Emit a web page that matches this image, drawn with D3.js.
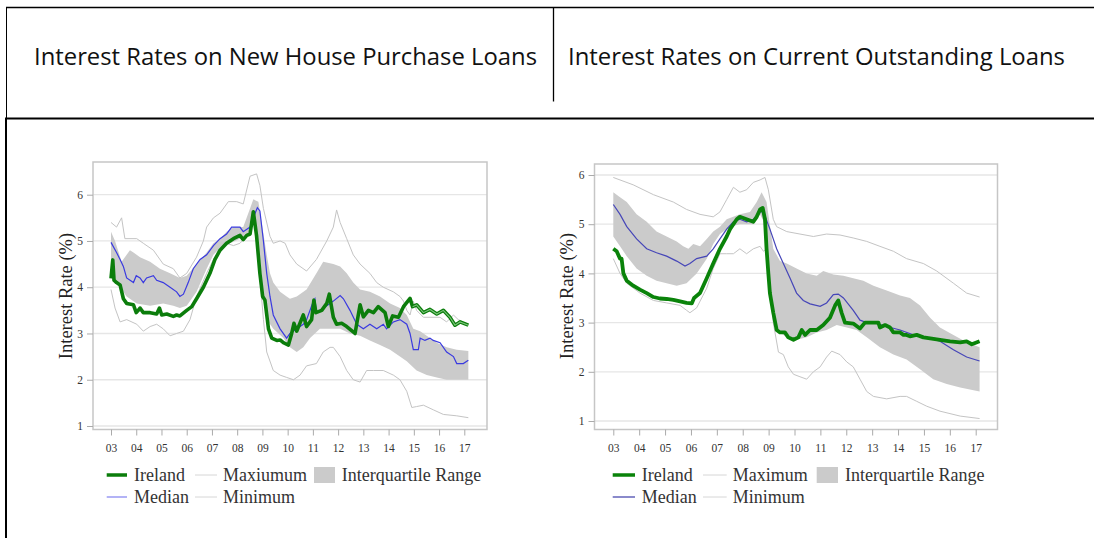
<!DOCTYPE html>
<html>
<head>
<meta charset="utf-8">
<script src="https://cdn.jsdelivr.net/npm/d3@7"></script>
<style>
  html, body { margin: 0; padding: 0; background: #fff; }
  svg { display: block; }
</style>
</head>
<body>
<svg id="chart" width="1094" height="538"></svg>
<script>
// ---------------- DATA (t = years since Jan 2003, value = %) ----------------
const headerTitles = ["Interest Rates on New House Purchase Loans", "Interest Rates on Current Outstanding Loans"];
const xTickLabels = ["03","04","05","06","07","08","09","10","11","12","13","14","15","16","17"];
const yTickValues = [1, 2, 3, 4, 5, 6];
const yAxisTitle = "Interest Rate (%)";
const legendLabelsNew = ["Ireland", "Maxiumum", "Interquartile Range", "Median", "Minimum"];
const legendLabelsOut = ["Ireland", "Maximum", "Interquartile Range", "Median", "Minimum"];

// New house purchase loans
const newIreland = [[0,4.19],[0.07,4.59],[0.12,4.15],[0.22,4.10],[0.36,4.05],[0.49,3.75],[0.62,3.65],[0.89,3.62],[1.00,3.45],[1.08,3.50],[1.15,3.55],[1.28,3.45],[1.55,3.45],[1.81,3.42],[1.92,3.55],[2.01,3.40],[2.21,3.42],[2.47,3.37],[2.60,3.40],[2.73,3.38],[3.00,3.50],[3.20,3.58],[3.39,3.75],[3.66,4.00],[3.92,4.30],[4.12,4.60],[4.32,4.80],[4.58,4.95],[4.85,5.05],[5.11,5.12],[5.24,5.03],[5.38,5.12],[5.51,5.15],[5.64,5.63],[5.77,5.10],[5.90,4.30],[6.01,3.80],[6.10,3.72],[6.24,3.10],[6.37,2.90],[6.57,2.85],[6.70,2.86],[6.83,2.80],[7.03,2.75],[7.16,3.00],[7.25,3.22],[7.36,3.05],[7.62,3.40],[7.75,3.15],[7.95,3.30],[8.04,3.72],[8.12,3.45],[8.35,3.50],[8.55,3.65],[8.65,3.85],[8.81,3.35],[8.94,3.20],[9.14,3.22],[9.34,3.15],[9.67,3.00],[9.87,3.62],[10.00,3.36],[10.20,3.50],[10.40,3.45],[10.59,3.58],[10.86,3.45],[10.99,3.15],[11.16,3.38],[11.39,3.35],[11.59,3.58],[11.85,3.76],[11.95,3.58],[12.11,3.62],[12.38,3.45],[12.64,3.52],[12.91,3.42],[13.17,3.50],[13.43,3.35],[13.63,3.18],[13.83,3.25],[14.16,3.18]];
const newMedian = [[0,4.97],[0.22,4.75],[0.36,4.60],[0.49,4.45],[0.62,4.20],[0.89,4.10],[1.00,4.25],[1.15,4.20],[1.28,4.10],[1.41,4.20],[1.68,4.25],[1.81,4.15],[2.07,4.10],[2.34,4.00],[2.60,3.90],[2.73,3.80],[2.87,3.85],[3.06,4.10],[3.26,4.40],[3.53,4.60],[3.79,4.70],[4.06,4.90],[4.32,5.05],[4.58,5.15],[4.78,5.30],[5.11,5.30],[5.24,5.20],[5.51,5.30],[5.71,5.60],[5.80,5.72],[5.90,5.65],[6.04,5.00],[6.17,4.30],[6.30,3.80],[6.43,3.40],[6.70,3.10],[6.96,2.90],[7.09,3.00],[7.36,3.10],[7.62,3.20],[7.75,3.30],[8.02,3.70],[8.08,3.75],[8.14,3.45],[8.55,3.60],[8.81,3.70],[9.08,3.82],[9.21,3.75],[9.47,3.50],[9.74,3.20],[10.00,3.10],[10.26,3.20],[10.53,3.10],[10.79,3.20],[10.92,3.10],[11.19,3.25],[11.45,3.30],[11.72,3.20],[11.85,3.00],[11.98,2.65],[12.18,2.65],[12.25,2.90],[12.44,2.85],[12.64,2.90],[12.77,2.85],[13.04,2.80],[13.30,2.60],[13.57,2.50],[13.70,2.35],[13.96,2.35],[14.16,2.42]];
const newIqrHigh = [[0,5.20],[0.16,5.00],[0.42,4.55],[0.75,4.80],[0.89,4.75],[1.15,4.65],[1.55,4.55],[1.94,4.40],[2.34,4.30],[2.73,4.20],[3.00,4.25],[3.39,4.50],[3.79,4.75],[4.06,4.95],[4.32,5.05],[4.58,5.20],[4.85,5.30],[5.24,5.30],[5.51,5.70],[5.64,5.90],[5.84,5.85],[5.97,5.40],[6.17,4.70],[6.30,4.30],[6.43,4.10],[6.70,3.90],[6.96,3.80],[7.09,3.75],[7.36,3.80],[7.75,3.95],[8.14,4.30],[8.41,4.55],[8.81,4.50],[9.08,4.45],[9.34,4.30],[9.60,4.10],[9.87,3.95],[10.26,3.90],[10.66,3.80],[11.06,3.65],[11.45,3.55],[11.72,3.40],[11.98,3.10],[12.25,3.05],[12.51,2.95],[12.91,2.80],[13.30,2.70],[13.70,2.65],[14.16,2.62]];
const newIqrLow = [[0,4.20],[0.22,4.10],[0.62,3.80],[1.02,3.65],[1.55,3.60],[2.07,3.65],[2.47,3.60],[2.73,3.55],[3.00,3.60],[3.39,3.90],[3.79,4.40],[4.06,4.70],[4.32,4.85],[4.72,4.95],[5.11,5.05],[5.44,5.15],[5.71,5.40],[5.90,4.60],[6.04,3.80],[6.17,3.30],[6.43,3.10],[6.83,2.90],[7.09,2.70],[7.36,2.60],[7.62,2.70],[7.89,2.90],[8.28,3.10],[8.68,3.10],[9.08,3.10],[9.47,3.00],[9.87,2.95],[10.26,2.85],[10.66,2.75],[11.06,2.65],[11.45,2.50],[11.72,2.40],[12.11,2.20],[12.51,2.10],[12.91,2.05],[13.30,2.00],[13.70,2.00],[14.16,2.00]];
const newMax = [[0,5.40],[0.22,5.30],[0.42,5.50],[0.55,5.05],[1.02,5.05],[1.28,4.95],[1.68,4.80],[2.07,4.50],[2.47,4.40],[2.73,4.20],[3.00,4.30],[3.39,4.65],[3.66,5.00],[3.79,5.30],[4.06,5.50],[4.32,5.60],[4.65,5.85],[4.98,5.85],[5.24,5.80],[5.51,6.40],[5.77,6.45],[5.90,6.20],[6.04,5.70],[6.30,5.10],[6.43,4.95],[6.70,5.00],[6.90,4.95],[7.09,4.70],[7.36,4.50],[7.75,4.35],[8.14,4.60],[8.55,5.00],[8.81,5.30],[8.94,5.67],[9.08,5.40],[9.34,5.05],[9.60,4.70],[9.87,4.50],[10.26,4.30],[10.53,4.10],[10.79,4.00],[11.19,3.90],[11.45,3.80],[11.59,3.70],[11.72,3.50],[11.85,3.40],[11.98,3.70],[12.11,3.50],[12.38,3.35],[13.04,3.35],[13.30,3.25],[13.57,3.40],[13.76,3.30],[14.16,3.20]];
const newMin = [[0,3.95],[0.16,3.55],[0.36,3.25],[0.62,3.30],[1.02,3.20],[1.28,3.05],[1.55,3.15],[1.81,3.20],[2.07,3.10],[2.34,2.95],[2.60,3.00],[2.87,3.05],[3.13,3.30],[3.39,3.80],[3.79,4.30],[4.06,4.60],[4.32,4.80],[4.58,4.95],[4.85,4.90],[5.11,4.95],[5.38,5.10],[5.64,5.50],[5.77,5.45],[5.90,4.20],[6.04,3.30],[6.17,2.60],[6.43,2.20],[6.70,2.10],[6.96,2.05],[7.23,2.00],[7.49,2.10],[7.75,2.30],[8.14,2.35],[8.41,2.60],[8.68,2.70],[8.81,2.70],[9.08,2.50],[9.34,2.20],[9.60,2.00],[9.87,1.95],[10.13,2.20],[10.40,2.20],[10.79,2.20],[11.19,2.10],[11.45,2.00],[11.72,1.75],[11.92,1.40],[12.11,1.42],[12.38,1.45],[12.77,1.35],[13.17,1.25],[13.70,1.22],[14.16,1.18]];

// Current outstanding loans
const outIreland = [[0,4.50],[0.13,4.45],[0.26,4.30],[0.32,4.30],[0.39,4.00],[0.52,3.85],[0.77,3.75],[1.03,3.67],[1.29,3.60],[1.55,3.52],[1.80,3.49],[2.06,3.48],[2.32,3.46],[2.58,3.43],[2.83,3.40],[3.03,3.39],[3.12,3.50],[3.35,3.60],[3.61,3.90],[3.86,4.20],[4.12,4.50],[4.38,4.75],[4.51,4.90],[4.77,5.10],[4.89,5.15],[5.15,5.10],[5.41,5.05],[5.54,5.15],[5.67,5.30],[5.77,5.33],[5.86,5.10],[5.92,4.50],[5.99,4.00],[6.05,3.60],[6.18,3.20],[6.31,2.85],[6.44,2.80],[6.63,2.80],[6.76,2.70],[6.96,2.65],[7.15,2.70],[7.28,2.85],[7.41,2.75],[7.60,2.85],[7.86,2.85],[8.11,2.95],[8.37,3.10],[8.57,3.35],[8.69,3.45],[8.82,3.20],[8.95,3.00],[9.27,2.98],[9.53,2.88],[9.72,3.00],[10.05,3.00],[10.24,3.00],[10.30,2.90],[10.50,2.95],[10.69,2.90],[10.82,2.80],[11.08,2.80],[11.21,2.75],[11.33,2.75],[11.46,2.72],[11.72,2.75],[11.98,2.70],[12.24,2.68],[12.62,2.65],[13.01,2.62],[13.40,2.60],[13.65,2.62],[13.85,2.56],[14.15,2.62]];
const outMedian = [[0,5.40],[0.26,5.20],[0.52,4.95],[0.90,4.70],[1.29,4.50],[1.67,4.42],[2.06,4.35],[2.45,4.25],[2.77,4.15],[2.96,4.20],[3.22,4.30],[3.61,4.35],[3.86,4.50],[4.12,4.70],[4.38,4.90],[4.64,5.05],[4.89,5.10],[5.15,5.05],[5.41,5.10],[5.67,5.25],[5.80,5.25],[6.05,4.90],[6.31,4.50],[6.57,4.20],[6.83,3.90],[7.08,3.60],[7.34,3.45],[7.60,3.38],[7.99,3.33],[8.24,3.40],[8.50,3.57],[8.69,3.58],[8.89,3.50],[9.27,3.25],[9.53,3.05],[9.79,3.00],[10.05,3.00],[10.56,2.92],[11.08,2.85],[11.59,2.75],[12.11,2.70],[12.62,2.62],[13.14,2.45],[13.65,2.30],[14.15,2.22]];
const outIqrHigh = [[0,5.65],[0.26,5.55],[0.52,5.45],[0.90,5.20],[1.29,5.05],[1.67,4.85],[2.06,4.75],[2.45,4.65],[2.70,4.55],[2.90,4.50],[3.09,4.60],[3.35,4.55],[3.61,4.70],[3.86,4.85],[4.12,4.95],[4.38,5.10],[4.89,5.20],[5.28,5.25],[5.54,5.45],[5.73,5.65],[5.92,5.45],[6.18,4.50],[6.44,4.25],[6.70,4.20],[7.08,4.10],[7.47,4.00],[7.86,3.95],[8.11,4.05],[8.50,3.98],[8.89,3.95],[9.27,3.90],[9.66,3.85],[10.05,3.75],[10.56,3.65],[11.08,3.55],[11.46,3.50],[11.85,3.35],[12.24,3.10],[12.62,2.90],[13.14,2.75],[13.65,2.60],[14.15,2.50]];
const outIqrLow = [[0,4.75],[0.26,4.55],[0.52,4.35],[0.90,4.10],[1.29,3.95],[1.67,3.85],[2.06,3.80],[2.45,3.75],[2.83,3.80],[3.22,4.00],[3.61,4.30],[3.86,4.60],[4.12,4.80],[4.51,4.95],[4.89,5.00],[5.41,5.00],[5.67,5.20],[5.86,5.00],[6.05,3.80],[6.18,3.00],[6.44,2.80],[6.70,2.70],[7.08,2.65],[7.47,2.70],[7.86,2.80],[8.24,2.85],[8.63,2.95],[9.02,2.90],[9.40,2.85],[9.79,2.70],[10.30,2.50],[10.82,2.35],[11.33,2.25],[11.85,2.05],[12.36,1.85],[12.88,1.75],[13.40,1.68],[14.15,1.60]];
const outMax = [[0,5.95],[0.77,5.80],[1.55,5.60],[2.32,5.45],[2.83,5.30],[3.35,5.20],[3.86,5.15],[4.12,5.25],[4.38,5.50],[4.64,5.75],[4.89,5.65],[5.15,5.70],[5.41,5.85],[5.67,5.90],[5.86,5.95],[5.99,5.70],[6.18,5.10],[6.31,4.95],[6.70,4.85],[7.21,4.80],[7.73,4.75],[8.24,4.80],[8.76,4.78],[9.27,4.72],[9.79,4.65],[10.30,4.55],[10.82,4.45],[11.33,4.30],[11.98,4.20],[12.49,4.05],[13.14,3.80],[13.65,3.60],[14.15,3.52]];
const outMin = [[0,4.30],[0.26,4.00],[0.52,3.80],[1.03,3.60],[1.55,3.45],[2.06,3.40],[2.58,3.35],[2.83,3.25],[2.96,3.20],[3.22,3.30],[3.61,3.70],[3.86,4.10],[4.12,4.40],[4.38,4.40],[4.64,4.40],[4.89,4.50],[5.15,4.40],[5.41,4.50],[5.67,4.55],[5.80,4.45],[5.92,4.50],[6.18,3.00],[6.38,2.40],[6.57,2.35],[6.76,2.10],[6.96,1.95],[7.21,1.90],[7.47,1.85],[7.73,2.00],[7.99,2.10],[8.24,2.30],[8.44,2.42],[8.76,2.35],[9.02,2.20],[9.27,2.10],[9.53,1.85],[9.79,1.60],[10.05,1.50],[10.56,1.45],[11.08,1.50],[11.33,1.50],[11.72,1.40],[12.11,1.30],[12.62,1.20],[13.40,1.10],[14.15,1.05]];

// ---------------- DRAWING ----------------
const svg = d3.select("#chart");

// Table frame
svg.append("line").attr("x1", 6).attr("x2", 1094).attr("y1", 7.5).attr("y2", 7.5).attr("stroke", "#000").attr("stroke-width", 1.6);
svg.append("line").attr("x1", 6.5).attr("x2", 6.5).attr("y1", 7).attr("y2", 118).attr("stroke", "#000").attr("stroke-width", 1);
svg.append("line").attr("x1", 553.5).attr("x2", 553.5).attr("y1", 8).attr("y2", 101.5).attr("stroke", "#000").attr("stroke-width", 1.3);
svg.append("line").attr("x1", 5).attr("x2", 1094).attr("y1", 118.5).attr("y2", 118.5).attr("stroke", "#000").attr("stroke-width", 2);
svg.append("line").attr("x1", 6).attr("x2", 6).attr("y1", 118).attr("y2", 538).attr("stroke", "#000").attr("stroke-width", 2);

const headerCfg = [{x: 34, w: 503}, {x: 568, w: 497}];
headerTitles.forEach((t, i) => {
  svg.append("text")
    .attr("x", headerCfg[i].x).attr("y", 65)
    .attr("textLength", headerCfg[i].w).attr("lengthAdjust", "spacingAndGlyphs")
    .attr("font-family", "'Open Sans', 'Liberation Sans', sans-serif")
    .attr("font-size", 23).attr("fill", "#111")
    .text(t);
});

const serif = "'Liberation Serif', 'DejaVu Serif', serif";

function drawChart(cfg) {
  const g = svg.append("g");
  const x = d3.scaleLinear().domain([0, 14]).range(cfg.xr);
  const y = d3.scaleLinear().domain([1, 6]).range(cfg.yr);

  // gridlines
  g.selectAll(".grid").data(yTickValues).enter().append("line")
    .attr("x1", cfg.frame[0]).attr("x2", cfg.frame[1])
    .attr("y1", d => y(d)).attr("y2", d => y(d))
    .attr("stroke", "#e6e6e6").attr("stroke-width", 1.3);

  const line = d3.line().x(d => x(d[0])).y(d => y(d[1]));

  // IQR band
  const band = cfg.iqrHigh.concat(cfg.iqrLow.slice().reverse());
  g.append("path").attr("d", line(band) + "Z").attr("fill", "#cbcbcb").attr("stroke", "none");

  // max & min
  [cfg.max, cfg.min].forEach(s => {
    g.append("path").attr("d", line(s)).attr("fill", "none").attr("stroke", "#c4c4c4").attr("stroke-width", 1);
  });
  // median
  g.append("path").attr("d", line(cfg.median)).attr("fill", "none").attr("stroke", cfg.medColor).attr("stroke-width", 1.2);
  // Ireland
  g.append("path").attr("d", line(cfg.ireland)).attr("fill", "none").attr("stroke", cfg.ieColor)
    .attr("stroke-width", cfg.ieWidth).attr("stroke-linejoin", "round");
  if (cfg.ieHollowFrom != null) {
    g.append("path").attr("d", line(cfg.ireland.filter(d => d[0] >= cfg.ieHollowFrom)))
      .attr("fill", "none").attr("stroke", "#7cc47c").attr("stroke-width", 1.1);
  }

  // frame
  g.append("rect")
    .attr("x", cfg.frame[0]).attr("y", cfg.frame[2])
    .attr("width", cfg.frame[1] - cfg.frame[0]).attr("height", cfg.frame[3] - cfg.frame[2])
    .attr("fill", "none").attr("stroke", "#c6c6c6").attr("stroke-width", 1.5);

  // y axis
  const ya = g.append("g").attr("transform", `translate(${cfg.frame[0]},0)`)
    .call(d3.axisLeft(y).tickValues(yTickValues).tickSize(6).tickPadding(4).tickFormat(d3.format("d")));
  ya.select(".domain").remove();
  ya.selectAll("line").attr("stroke", "#aaa");
  ya.selectAll("text").attr("font-family", serif).attr("font-size", 11.5).attr("fill", "#333");

  // x axis
  const xa = g.append("g").attr("transform", `translate(0,${cfg.frame[3]})`)
    .call(d3.axisBottom(x).tickValues(d3.range(0, 15)).tickSize(6).tickPadding(8)
      .tickFormat(d => xTickLabels[d]));
  xa.select(".domain").remove();
  xa.selectAll("line").attr("stroke", "#aaa");
  xa.selectAll("text").attr("font-family", serif).attr("font-size", 11.5).attr("fill", "#333");

  // y title
  g.append("text")
    .attr("transform", `translate(${cfg.ytitle[0]},${cfg.ytitle[1]}) rotate(-90)`)
    .attr("text-anchor", "middle").attr("dominant-baseline", "central")
    .attr("font-family", serif).attr("font-size", 18.5).attr("fill", "#222")
    .text(yAxisTitle);

  // legend
  const L = cfg.legend;
  const lab = cfg.legendLabels;
  const fs = 18;
  function legLine(x1, x2, yy, color, w) {
    g.append("line").attr("x1", x1).attr("x2", x2).attr("y1", yy).attr("y2", yy)
      .attr("stroke", color).attr("stroke-width", w);
  }
  function legText(xx, yy, t) {
    g.append("text").attr("x", xx).attr("y", yy).attr("font-family", serif)
      .attr("font-size", fs).attr("fill", "#333").text(t);
  }
  legLine(L.c1[0], L.c1[1], L.r1, cfg.ieColor, 3.5);
  legText(L.c1[2], L.r1 + 6, lab[0]);
  legLine(L.c2[0], L.c2[1], L.r1, "#d6d6d6", 1);
  legText(L.c2[2], L.r1 + 6, lab[1]);
  g.append("rect").attr("x", L.c3[0]).attr("y", L.r1 - 8).attr("width", L.c3[1] - L.c3[0]).attr("height", 16)
    .attr("fill", "#cbcbcb");
  legText(L.c3[2], L.r1 + 6, lab[2]);
  legLine(L.c1[0], L.c1[1], L.r2, cfg.legMedColor, 1.2);
  legText(L.c1[2], L.r2 + 6, lab[3]);
  legLine(L.c2[0], L.c2[1], L.r2, "#d6d6d6", 1);
  legText(L.c2[2], L.r2 + 6, lab[4]);
}

drawChart({
  frame: [93, 487, 162, 429.5],
  xr: [111, 464.3],
  yr: [426, 194.7],
  ireland: newIreland, median: newMedian, iqrHigh: newIqrHigh, iqrLow: newIqrLow, max: newMax, min: newMin,
  ieColor: "#0b7d0b", ieWidth: 3.6, ieHollowFrom: 11.95,
  medColor: "#3a3ae0", legMedColor: "#8080f0",
  ytitle: [66, 296],
  legend: {r1: 475, r2: 497, c1: [106.7, 127, 134], c2: [195, 217, 223], c3: [314, 335, 341.7]},
  legendLabels: legendLabelsNew
});

drawChart({
  frame: [594.5, 997.5, 164, 429.5],
  xr: [613.3, 975.7],
  yr: [421, 175],
  ireland: outIreland, median: outMedian, iqrHigh: outIqrHigh, iqrLow: outIqrLow, max: outMax, min: outMin,
  ieColor: "#0a830a", ieWidth: 3.8, ieHollowFrom: null,
  medColor: "#4646b8", legMedColor: "#3c3ca8",
  ytitle: [567, 296],
  legend: {r1: 475, r2: 497, c1: [612.7, 635, 641.7], c2: [703, 726.7, 732.7], c3: [816.7, 838, 845]},
  legendLabels: legendLabelsOut
});
</script>
</body>
</html>
